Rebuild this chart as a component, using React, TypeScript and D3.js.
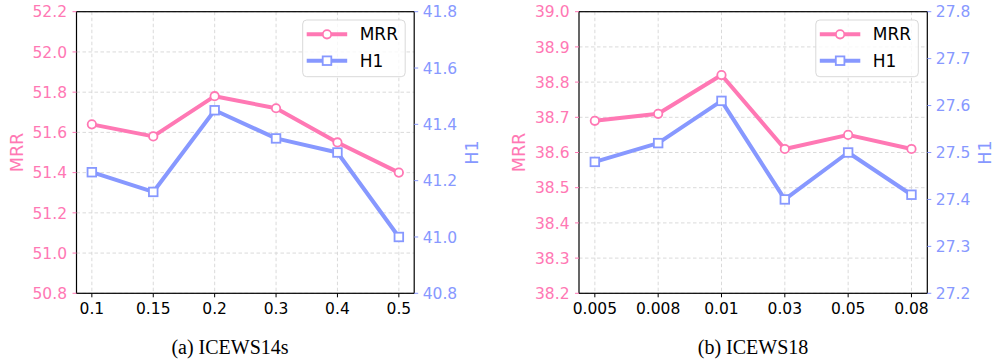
import React from "react";
import * as d3 from "d3";

const catsA = ["0.1", "0.15", "0.2", "0.3", "0.4", "0.5"];
const mrrA = [51.64, 51.58, 51.78, 51.72, 51.55, 51.4];
const h1A = [41.23, 41.16, 41.45, 41.35, 41.3, 41.0];
const mrrTicksA = [50.8, 51.0, 51.2, 51.4, 51.6, 51.8, 52.0, 52.2];
const h1TicksA = [40.8, 41.0, 41.2, 41.4, 41.6, 41.8];

const catsB = ["0.005", "0.008", "0.01", "0.03", "0.05", "0.08"];
const mrrB = [38.69, 38.71, 38.82, 38.61, 38.65, 38.61];
const h1B = [27.48, 27.52, 27.61, 27.4, 27.5, 27.41];
const mrrTicksB = [38.2, 38.3, 38.4, 38.5, 38.6, 38.7, 38.8, 38.9, 39.0];
const h1TicksB = [27.2, 27.3, 27.4, 27.5, 27.6, 27.7, 27.8];

const PINK = "#ff78b4";
const BLUE = "#8798ff";
const SANS = "DejaVu Sans";

type PanelProps = {
  x0: number;
  x1: number;
  cats: string[];
  mrr: number[];
  h1: number[];
  mrrTicks: number[];
  h1Ticks: number[];
  mrrDec: number;
  h1Dec: number;
  caption: string;
  captionX: number;
};

function Panel(p: PanelProps) {
  const top = 11.7;
  const bottom = 293.3;
  const x = d3.scalePoint<string>().domain(p.cats).range([p.x0, p.x1]).padding(0.25);
  const yL = d3
    .scaleLinear()
    .domain([p.mrrTicks[0], p.mrrTicks[p.mrrTicks.length - 1]])
    .range([bottom, top]);
  const yR = d3
    .scaleLinear()
    .domain([p.h1Ticks[0], p.h1Ticks[p.h1Ticks.length - 1]])
    .range([bottom, top]);
  const lineL = d3
    .line<number>()
    .x((_, i) => x(p.cats[i])!)
    .y((d) => yL(d));
  const lineR = d3
    .line<number>()
    .x((_, i) => x(p.cats[i])!)
    .y((d) => yR(d));
  const midY = (top + bottom) / 2;
  const lgX = p.x1 - 111.5;
  const lgY = 20;
  return (
    <g>
      {/* grid */}
      {p.cats.map((c) => (
        <line
          key={"gx" + c}
          x1={x(c)}
          x2={x(c)}
          y1={top}
          y2={bottom}
          stroke="#d6d6d6"
          strokeWidth={0.9}
          strokeDasharray="3.5,2.5"
        />
      ))}
      {p.mrrTicks.map((t) => (
        <line
          key={"gy" + t}
          x1={p.x0}
          x2={p.x1}
          y1={yL(t)}
          y2={yL(t)}
          stroke="#d6d6d6"
          strokeWidth={0.9}
          strokeDasharray="3.5,2.5"
        />
      ))}
      {/* lines */}
      <path d={lineL(p.mrr)!} fill="none" stroke={PINK} strokeWidth={4} strokeLinejoin="round" />
      {p.mrr.map((v, i) => (
        <circle key={"m" + i} cx={x(p.cats[i])} cy={yL(v)} r={4.2} fill="#fff" stroke={PINK} strokeWidth={1.8} />
      ))}
      <path d={lineR(p.h1)!} fill="none" stroke={BLUE} strokeWidth={4} strokeLinejoin="round" />
      {p.h1.map((v, i) => (
        <rect
          key={"h" + i}
          x={x(p.cats[i])! - 4.3}
          y={yR(v) - 4.3}
          width={8.6}
          height={8.6}
          fill="#fff"
          stroke={BLUE}
          strokeWidth={1.8}
        />
      ))}
      {/* frame */}
      <rect x={p.x0} y={top} width={p.x1 - p.x0} height={bottom - top} fill="none" stroke="#000" strokeWidth={1.2} />
      {/* x ticks */}
      {p.cats.map((c) => (
        <g key={"xt" + c}>
          <line x1={x(c)} x2={x(c)} y1={bottom} y2={bottom + 4} stroke="#000" strokeWidth={1} />
          <text x={x(c)} y={314} textAnchor="middle" fontFamily={SANS} fontSize={15.5} fill="#000">
            {c}
          </text>
        </g>
      ))}
      {/* left ticks */}
      {p.mrrTicks.map((t) => (
        <g key={"yl" + t}>
          <line x1={p.x0 - 4} x2={p.x0} y1={yL(t)} y2={yL(t)} stroke={PINK} strokeWidth={1} />
          <text
            x={p.x0 - 9.5}
            y={yL(t)}
            dy="0.37em"
            textAnchor="end"
            fontFamily={SANS}
            fontSize={15.5}
            fill={PINK}
          >
            {t.toFixed(p.mrrDec)}
          </text>
        </g>
      ))}
      {/* right ticks */}
      {p.h1Ticks.map((t) => (
        <g key={"yr" + t}>
          <line x1={p.x1} x2={p.x1 + 4} y1={yR(t)} y2={yR(t)} stroke={BLUE} strokeWidth={1} />
          <text x={p.x1 + 8.5} y={yR(t)} dy="0.37em" textAnchor="start" fontFamily={SANS} fontSize={15.5} fill={BLUE}>
            {t.toFixed(p.h1Dec)}
          </text>
        </g>
      ))}
      {/* axis labels */}
      <text
        transform={`translate(${p.x0 - 60},${midY}) rotate(-90)`}
        dy="0.36em"
        textAnchor="middle"
        fontFamily={SANS}
        fontSize={17.5}
        fill={PINK}
      >
        MRR
      </text>
      <text
        transform={`translate(${p.x1 + 57},${midY}) rotate(-90)`}
        dy="0.36em"
        textAnchor="middle"
        fontFamily={SANS}
        fontSize={17.5}
        fill={BLUE}
      >
        H1
      </text>
      {/* legend */}
      <rect x={lgX} y={lgY} width={102.5} height={56.7} rx={4} fill="#fff" fillOpacity={0.8} stroke="#d9d9d9" strokeWidth={1} />
      <line x1={lgX + 4} x2={lgX + 44.5} y1={34.3} y2={34.3} stroke={PINK} strokeWidth={4} />
      <circle cx={lgX + 24.3} cy={34.3} r={4.2} fill="#fff" stroke={PINK} strokeWidth={1.8} />
      <text x={lgX + 57} y={34.3} dy="0.36em" fontFamily={SANS} fontSize={17} fill="#000">
        MRR
      </text>
      <line x1={lgX + 4} x2={lgX + 44.5} y1={60.7} y2={60.7} stroke={BLUE} strokeWidth={4} />
      <rect x={lgX + 24.3 - 4.3} y={60.7 - 4.3} width={8.6} height={8.6} fill="#fff" stroke={BLUE} strokeWidth={1.8} />
      <text x={lgX + 57} y={60.7} dy="0.36em" fontFamily={SANS} fontSize={17} fill="#000">
        H1
      </text>
      {/* caption */}
      <text x={p.captionX} y={354} textAnchor="middle" fontFamily="Liberation Serif" fontSize={20} fill="#000">
        {p.caption}
      </text>
    </g>
  );
}

export default function App() {
  return (
    <svg
      width={995}
      height={362}
      style={{ position: "absolute", left: 0, top: 0, background: "#fff" }}
    >
      <rect width={995} height={362} fill="#fff" />
      <Panel
        x0={76.5}
        x1={414.2}
        cats={catsA}
        mrr={mrrA}
        h1={h1A}
        mrrTicks={mrrTicksA}
        h1Ticks={h1TicksA}
        mrrDec={1}
        h1Dec={1}
        caption="(a) ICEWS14s"
        captionX={230}
      />
      <Panel
        x0={579}
        x1={927.3}
        cats={catsB}
        mrr={mrrB}
        h1={h1B}
        mrrTicks={mrrTicksB}
        h1Ticks={h1TicksB}
        mrrDec={1}
        h1Dec={1}
        caption="(b) ICEWS18"
        captionX={753}
      />
    </svg>
  );
}
